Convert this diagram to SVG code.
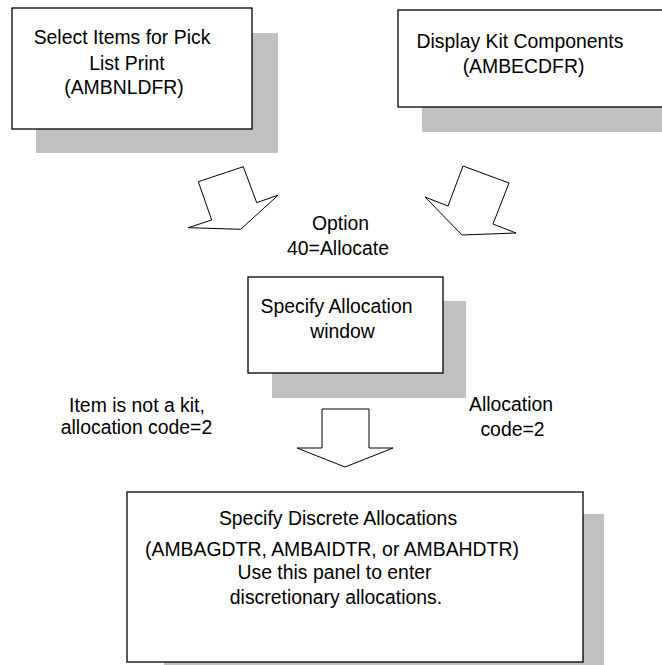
<svg xmlns="http://www.w3.org/2000/svg" width="662" height="665" viewBox="0 0 662 665">
<style>
.shadow{fill:#c0c0c0;stroke:none}
.box{fill:#ffffff;stroke:#000000;stroke-width:1.3}
.arrow{fill:#ffffff;stroke:#000000;stroke-width:1;stroke-linejoin:miter}
text{font-family:"Liberation Sans",Arial,sans-serif;font-size:19.4px;fill:#000000;text-anchor:middle}
</style>
<rect width="662" height="665" fill="#ffffff"/>
<g id="node-pick-list">
<rect class="shadow" x="36" y="33" width="242" height="120"/>
<rect class="box" x="12" y="8" width="240" height="121"/>
<text x="122" y="44">Select Items for Pick</text>
<text x="127" y="69.5">List Print</text>
<text x="124" y="94">(AMBNLDFR)</text>
</g>
<g id="node-kit-components">
<rect class="shadow" x="422" y="34" width="250" height="98"/>
<rect class="box" x="398" y="10" width="274" height="97"/>
<text x="520" y="47.5">Display Kit Components</text>
<text x="523.5" y="72.5">(AMBECDFR)</text>
</g>
<g id="node-specify-allocation">
<rect class="shadow" x="272" y="301" width="194" height="97"/>
<rect class="box" x="248" y="277" width="195" height="96"/>
<text x="336.5" y="312.7">Specify Allocation</text>
<text x="342.5" y="337.7">window</text>
</g>
<g id="node-discrete-allocations">
<rect class="shadow" x="164" y="514" width="440" height="160"/>
<rect class="box" x="127" y="492" width="456" height="170"/>
<text x="338" y="525.4">Specify Discrete Allocations</text>
<text x="332" y="555.5">(AMBAGDTR, AMBAIDTR, or AMBAHDTR)</text>
<text x="334.5" y="579">Use this panel to enter</text>
<text x="336" y="604">discretionary allocations.</text>
</g>
<g id="connectors">
<polygon class="arrow" points="198.3,181.7 243.3,166.7 256.7,202.7 278.3,195 240.7,229.3 188.3,227.7 211.7,220"/>
<polygon class="arrow" points="463,166 509,183 493,224 516,233 462,235 425,197 448,206"/>
<polygon class="arrow" points="322,409 369,409 369,448 393,448 345,467 297,448 322,448"/>
<text x="340.5" y="230">Option</text>
<text x="338" y="255">40=Allocate</text>
<text x="137" y="411.7">Item is not a kit,</text>
<text x="136.5" y="434.3">allocation code=2</text>
<text x="511" y="410.7">Allocation</text>
<text x="512.5" y="435.7">code=2</text>
</g>
</svg>
